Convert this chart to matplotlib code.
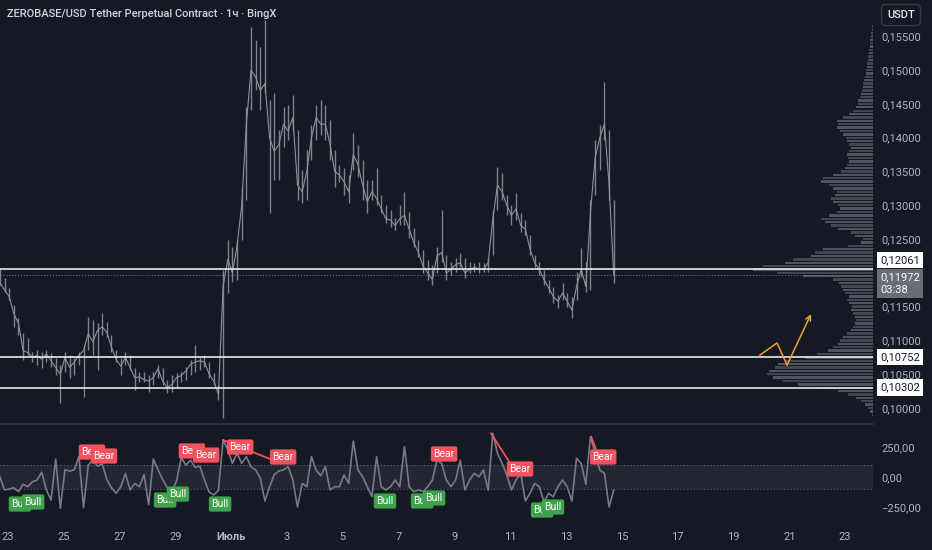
import matplotlib
matplotlib.use("Agg")
import matplotlib.pyplot as plt
from matplotlib.transforms import blended_transform_factory, offset_copy
import numpy as np

plt.rcParams["font.family"] = ["Roboto", "DejaVu Sans"]

# colours
BG = "#151924"
TXT = "#b2b5be"
CANDLE = "#7f828b"
LEVEL = "#e6e8ee"
BEAR = "#f4525f"
BULL = "#3fa34d"
ORANGE = "#f0a030"

# ---------------- data ----------------
FIRST_HOUR = -7      # first 4h candle: 22 Jun 17:00 (hours from 23 Jun 00:00)
BAR_HOURS = 4

high = [0.1207, 0.1192, 0.1178, 0.1152, 0.1133, 0.1111, 0.1104, 0.1083, 0.1086, 0.1083,
        0.1086, 0.1081, 0.1074, 0.1064, 0.1083, 0.1078, 0.1074, 0.1083, 0.1093, 0.1135,
        0.1130, 0.1126, 0.1141, 0.1127, 0.1108, 0.1086, 0.1074, 0.1083, 0.1078, 0.1059,
        0.1053, 0.1053, 0.1049, 0.1053, 0.1064, 0.1059, 0.1041, 0.1049, 0.1052, 0.1053,
        0.1061, 0.1071, 0.1093, 0.1075, 0.1078, 0.1068, 0.1052, 0.1034, 0.1204, 0.1249,
        0.1238, 0.1249, 0.1327, 0.1445, 0.1564, 0.1545, 0.1534, 0.1574, 0.1456, 0.1466,
        0.1411, 0.1445, 0.1449, 0.1463, 0.1411, 0.1352, 0.1382, 0.1419, 0.1449, 0.1456,
        0.1449, 0.1426, 0.1382, 0.1360, 0.1355, 0.1345, 0.1407, 0.1389, 0.1367, 0.1337,
        0.1337, 0.1355, 0.1315, 0.1300, 0.1293, 0.1281, 0.1300, 0.1320, 0.1290, 0.1266,
        0.1249, 0.1234, 0.1219, 0.1212, 0.1238, 0.1293, 0.1226, 0.1216, 0.1222, 0.1229,
        0.1222, 0.1216, 0.1215, 0.1216, 0.1215, 0.1222, 0.1293, 0.1357, 0.1348, 0.1315,
        0.1300, 0.1318, 0.1289, 0.1278, 0.1256, 0.1226, 0.1216, 0.1204, 0.1189, 0.1179,
        0.1167, 0.1185, 0.1170, 0.1164, 0.1201, 0.1237, 0.1216, 0.1308, 0.1397, 0.1419,
        0.1482, 0.1411, 0.1308]
low = [0.1182, 0.1172, 0.1160, 0.1120, 0.1108, 0.1071, 0.1078, 0.1068, 0.1064, 0.1059,
       0.1068, 0.1061, 0.1049, 0.1007, 0.1053, 0.1044, 0.1049, 0.1064, 0.1016, 0.1086,
       0.1078, 0.1056, 0.1108, 0.1105, 0.1083, 0.1068, 0.1049, 0.1064, 0.1056, 0.1027,
       0.1038, 0.1038, 0.1024, 0.1034, 0.1044, 0.1034, 0.1022, 0.1024, 0.1030, 0.1038,
       0.1041, 0.1049, 0.1053, 0.1056, 0.1061, 0.1044, 0.1034, 0.1012, 0.0985, 0.1170,
       0.1186, 0.1189, 0.1249, 0.1308, 0.1441, 0.1471, 0.1441, 0.1466, 0.1289, 0.1337,
       0.1337, 0.1386, 0.1397, 0.1411, 0.1308, 0.1303, 0.1308, 0.1367, 0.1397, 0.1404,
       0.1397, 0.1367, 0.1327, 0.1334, 0.1315, 0.1303, 0.1352, 0.1342, 0.1308, 0.1289,
       0.1308, 0.1300, 0.1289, 0.1274, 0.1268, 0.1263, 0.1271, 0.1271, 0.1252, 0.1238,
       0.1223, 0.1200, 0.1189, 0.1182, 0.1200, 0.1216, 0.1189, 0.1197, 0.1201, 0.1209,
       0.1192, 0.1200, 0.1201, 0.1200, 0.1201, 0.1201, 0.1226, 0.1293, 0.1308, 0.1286,
       0.1271, 0.1278, 0.1260, 0.1256, 0.1226, 0.1209, 0.1197, 0.1182, 0.1170, 0.1155,
       0.1148, 0.1160, 0.1149, 0.1133, 0.1160, 0.1194, 0.1172, 0.1175, 0.1315, 0.1352,
       0.1397, 0.1308, 0.1185]
close = [0.1185, 0.1175, 0.1165, 0.1140, 0.1125, 0.1085, 0.1082, 0.1075, 0.1078, 0.1072,
         0.1080, 0.1070, 0.1060, 0.1050, 0.1075, 0.1060, 0.1068, 0.1078, 0.1085, 0.1110,
         0.1098, 0.1115, 0.1120, 0.1112, 0.1090, 0.1072, 0.1062, 0.1075, 0.1060, 0.1045,
         0.1046, 0.1042, 0.1040, 0.1045, 0.1058, 0.1040, 0.1030, 0.1035, 0.1045, 0.1048,
         0.1055, 0.1065, 0.1068, 0.1070, 0.1068, 0.1050, 0.1040, 0.1020, 0.1180, 0.1220,
         0.1200, 0.1240, 0.1300, 0.1420, 0.1500, 0.1490, 0.1470, 0.1480, 0.1400, 0.1380,
         0.1390, 0.1420, 0.1410, 0.1430, 0.1330, 0.1320, 0.1350, 0.1400, 0.1430, 0.1420,
         0.1420, 0.1390, 0.1350, 0.1345, 0.1335, 0.1320, 0.1375, 0.1360, 0.1330, 0.1305,
         0.1320, 0.1310, 0.1295, 0.1280, 0.1278, 0.1270, 0.1280, 0.1285, 0.1265, 0.1245,
         0.1230, 0.1210, 0.1200, 0.1190, 0.1225, 0.1230, 0.1200, 0.1205, 0.1212, 0.1215,
         0.1200, 0.1205, 0.1208, 0.1206, 0.1205, 0.1215, 0.1280, 0.1330, 0.1320, 0.1300,
         0.1285, 0.1295, 0.1270, 0.1265, 0.1235, 0.1215, 0.1205, 0.1190, 0.1178, 0.1165,
         0.1158, 0.1170, 0.1158, 0.1145, 0.1180, 0.1205, 0.1180, 0.1290, 0.1370, 0.1400,
         0.1420, 0.1330, 0.11972]

# oscillator (lower pane)
osc = [3, -108, -100, -90, -122, -60, -80, -40, -25, 40,
       -108, -192, 150, -260, 60, 50, 60, 170, -255, 100,
       140, 90, 110, -20, -90, -135, -81, 30, -108, -53,
       -81, 20, -230, 150, 60, -20, -90, -120, -30, 160,
       100, 140, 80, 90, -25, -125, -150, -110, 308, 230,
       114, 200, 114, 169, 86, 60, -10, -200, -81, 20,
       50, 60, 86, -25, -250, -53, -81, 170, 58, 10,
       86, -108, -81, -81, 17, -53, 300, 58, 3, -81,
       -164, 169, -81, -108, -81, -25, -81, 253, -81, -122,
       -108, -122, -81, -25, 142, 114, -25, -81, -25, 140,
       -108, -25, 31, 3, 58, -110, 364, 197, 114, 17,
       -108, -25, 31, -200, -136, -53, -81, -206, -136, -164,
       -81, -25, -81, -200, 156, 114, -60, 336, 197, 58,
       31, -250, -108]

bear_days = [3.01, 3.44, 6.59, 7.10, 8.32, 9.86, 15.63, 18.35, 21.33]
bear_vals = [208, 175, 217, 183, 250, 167, 192, 67, 167]
bull_days = [0.43, 0.90, 5.63, 6.09, 7.60, 13.51, 14.84, 15.27, 19.14, 19.53]
bull_vals = [-225, -208, -192, -142, -225, -200, -200, -175, -275, -250]
# bearish divergence lines: (day0, val0, day1, val1)
div_lines = [(7.71, 308, 9.39, 150), (17.31, 364, 17.99, 117), (20.90, 336, 21.11, 208)]

# horizontal levels + last price
levels = [0.12061, 0.10752, 0.10302]
last_price = 0.11972
last_time = "03:38"

# drawn path (orange)
path_days = [26.95, 27.56, 27.92, 28.78]
path_prices = [0.10784, 0.10962, 0.10636, 0.11391]

# volume profile, bins of 0.0005 from 0.0990
PROFILE_START = 0.0990
PROFILE_STEP = 0.0005
profile_vol = [1, 3, 5, 8, 12, 17, 25, 35, 55, 75,
               90, 100, 106, 104, 98, 95, 88, 68, 56, 45,
               40, 35, 33, 30, 26, 22, 20, 18, 17, 18,
               20, 22, 21, 24, 26, 24, 28, 30, 32, 34,
               40, 70, 96, 120, 110, 88, 80, 62, 58, 50,
               25, 12, 10, 18, 22, 35, 42, 48, 52, 44,
               36, 33, 35, 40, 42, 38, 36, 40, 44, 52,
               50, 40, 32, 28, 26, 24, 25, 26, 24, 22,
               24, 26, 27, 30, 33, 36, 35, 36, 30, 24,
               20, 17, 15, 15, 13, 12, 11, 10, 10, 9,
               8, 7, 7, 6, 6, 5, 5, 4, 4, 3,
               3, 3, 2, 2, 1, 1, 0]

# 0,12000 is hidden behind the price badges in the original
price_ticks = [0.100, 0.105, 0.110, 0.115, 0.125, 0.130,
               0.135, 0.140, 0.145, 0.150, 0.155]
osc_ticks = [-250, 0, 250]
date_ticks = [0, 2, 4, 6, 8, 10, 12, 14, 16, 18, 20, 22, 24, 26, 28, 30]
date_labels = ["23", "25", "27", "29", "Июль", "3", "5", "7", "9", "11",
               "13", "15", "17", "19", "21", "23"]

TITLE = "ZEROBASE/USD Tether Perpetual Contract · 1ч · BingX"

XLIM = (-0.287, 31.0)
YLIM = (0.09793, 0.16038)
OLIM = (-400, 442)


def comma(v, nd):
    return f"{v:.{nd}f}".replace(".", ",").replace("-", "−")


# ---------------- figure ----------------
fig = plt.figure(figsize=(9.32, 5.5), dpi=100, facecolor=BG)
main_box = [0, 128 / 550, 873 / 932, 422 / 550]

# volume profile underneath
axp = fig.add_axes(main_box, facecolor=BG)
prof_levels = PROFILE_START + PROFILE_STEP * np.arange(len(profile_vol))
shades = ["#50545e" if k % 2 else "#42464f" for k in range(len(profile_vol))]
axp.barh(prof_levels, profile_vol, height=PROFILE_STEP * 0.7, color=shades, left=0)
axp.set_xlim(873, 0)
axp.set_ylim(*YLIM)
axp.axis("off")

# price pane
ax = fig.add_axes(main_box, facecolor="none")
t = (FIRST_HOUR + BAR_HOURS * np.arange(len(close))) / 24.0
ax.vlines(t, low, high, color=CANDLE, lw=1.0)
ax.plot(t, close, color="#8f929a", lw=0.8)
for lv in levels:
    ax.axhline(lv, color=LEVEL, lw=1.2)
ax.axhline(last_price, color="#787b86", lw=0.7, ls=(0, (1, 2)))
ax.plot(path_days[:-1], path_prices[:-1], color=ORANGE, lw=1.1)
ax.annotate("", xy=(path_days[-1], path_prices[-1]), xytext=(path_days[-2], path_prices[-2]),
            arrowprops=dict(arrowstyle="->", color=ORANGE, lw=1.1, mutation_scale=9,
                            shrinkA=0, shrinkB=0))
ax.set_xlim(*XLIM)
ax.set_ylim(*YLIM)
ax.set_xticks([])
ax.yaxis.tick_right()
ax.set_yticks(price_ticks)
ax.set_yticklabels([comma(p, 5) for p in price_ticks])
ax.tick_params(axis="y", length=0, pad=6, labelsize=8, labelcolor=TXT)
for s in ax.spines.values():
    s.set_visible(False)

tr = blended_transform_factory(ax.transAxes, ax.transData)


def tag(price, text, fc, tc, dy=0):
    trans = offset_copy(tr, fig=fig, x=0, y=dy, units="dots")
    ax.text(1.0 + 7 / 873, price, text, transform=trans, ha="left", va="center",
            fontsize=8, color=tc, zorder=6, clip_on=False, linespacing=1.3,
            bbox=dict(boxstyle="square,pad=0.28", fc=fc, ec="none"))


tag(levels[0], comma(levels[0], 5), "white", "#131722", dy=9)
tag(last_price, comma(last_price, 5) + "\n" + last_time, "#6a6d76", "white", dy=-9)
tag(levels[1], comma(levels[1], 5), "white", "#131722")
tag(levels[2], comma(levels[2], 5), "white", "#131722")

# oscillator pane
ax2 = fig.add_axes([0, 25 / 550, 873 / 932, 101 / 550], facecolor=BG)
ax2.axhspan(-100, 100, color="#232733", lw=0)
ax2.axhline(100, color="#5d606b", lw=0.8, ls=(0, (1, 2)))
ax2.axhline(-100, color="#5d606b", lw=0.8, ls=(0, (1, 2)))
ax2.plot(t, osc, color="#787b86", lw=1.2)
for d0, v0, d1, v1 in div_lines:
    ax2.plot([d0, d1], [v0, v1], color=BEAR, lw=1.3, zorder=3)
for d, v in zip(bear_days, bear_vals):
    ax2.text(d, v, "Bear", ha="center", va="center", fontsize=7.5, color="white", zorder=5,
             bbox=dict(boxstyle="round,pad=0.25,rounding_size=0.2", fc=BEAR, ec="none"))
for d, v in zip(bull_days, bull_vals):
    ax2.text(d, v, "Bull", ha="center", va="center", fontsize=7.5, color="white", zorder=5,
             bbox=dict(boxstyle="round,pad=0.25,rounding_size=0.2", fc=BULL, ec="none"))
ax2.set_xlim(*XLIM)
ax2.set_ylim(*OLIM)
ax2.yaxis.tick_right()
ax2.set_yticks(osc_ticks)
ax2.set_yticklabels([comma(v, 2) for v in osc_ticks])
ax2.set_xticks(date_ticks)
ax2.set_xticklabels(date_labels)
ax2.tick_params(axis="y", length=0, pad=6, labelsize=8, labelcolor=TXT)
ax2.tick_params(axis="x", length=0, pad=5, labelsize=8, labelcolor=TXT)
for lbl in ax2.get_xticklabels():
    if lbl.get_text() == "Июль":
        lbl.set_fontweight("bold")
for name, s in ax2.spines.items():
    s.set_visible(name == "top")
ax2.spines["top"].set_color("#2a2e39")
ax2.spines["top"].set_linewidth(1.5)

# title and currency badge
fig.text(7 / 932, 1 - 14 / 550, TITLE, fontsize=8, color="#d1d4dc", va="center",
         fontweight="medium")
fig.text(901 / 932, 1 - 15 / 550, "USDT", fontsize=8, color="#e6e8ee", ha="center",
         va="center", fontweight="medium",
         bbox=dict(boxstyle="round,pad=0.5,rounding_size=0.4", fc=BG, ec="#363a45", lw=1))

fig.savefig("out.png", dpi=100, facecolor=BG)
